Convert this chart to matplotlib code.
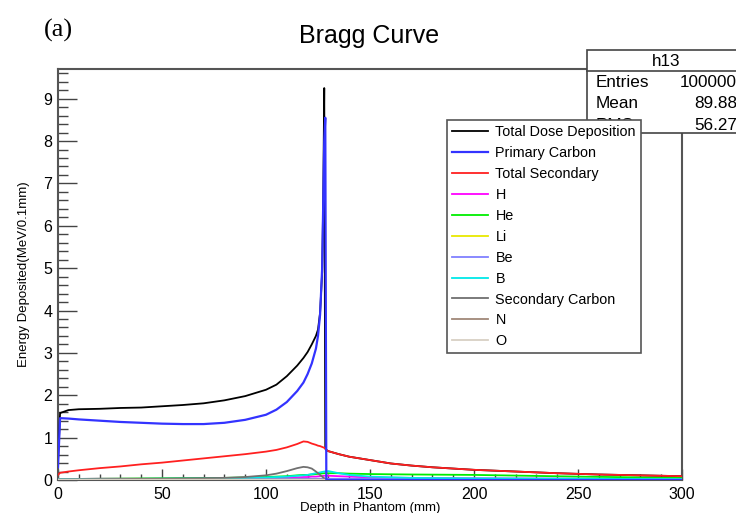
import matplotlib.pyplot as plt
from matplotlib.patches import Rectangle
from matplotlib.ticker import MultipleLocator

# depth grid (mm) for the main curves
depth = [0, 1, 5, 10, 20, 30, 40, 50, 60, 70, 80, 90, 100, 105, 110, 115, 118,
         120, 122, 124, 125, 126, 127, 127.5, 128, 128.5, 129, 130, 135, 140,
         150, 160, 170, 180, 190, 200, 220, 240, 260, 280, 300]

total_dose = [0.45, 1.58, 1.65, 1.67, 1.68, 1.70, 1.71, 1.74, 1.77, 1.81, 1.88,
              1.98, 2.13, 2.25, 2.45, 2.70, 2.88, 3.02, 3.20, 3.40, 3.55, 3.95,
              4.90, 6.60, 9.25, 0.74, 0.71, 0.68, 0.61, 0.55, 0.47, 0.39, 0.34,
              0.30, 0.27, 0.24, 0.20, 0.16, 0.13, 0.11, 0.09]

primary_carbon = [0.30, 1.46, 1.45, 1.43, 1.40, 1.37, 1.35, 1.33, 1.32, 1.32,
                  1.35, 1.42, 1.54, 1.66, 1.84, 2.10, 2.30, 2.50, 2.75, 3.10,
                  3.40, 3.90, 5.00, 6.50, 8.00, 8.55, 0.0, 0.0, 0.0, 0.0, 0.0,
                  0.0, 0.0, 0.0, 0.0, 0.0, 0.0, 0.0, 0.0, 0.0, 0.0]

total_secondary = [0.12, 0.17, 0.20, 0.23, 0.28, 0.32, 0.37, 0.41, 0.46, 0.51,
                   0.56, 0.61, 0.67, 0.71, 0.77, 0.85, 0.91, 0.90, 0.86, 0.83,
                   0.81, 0.80, 0.78, 0.77, 0.76, 0.74, 0.71, 0.68, 0.61, 0.55,
                   0.47, 0.39, 0.34, 0.30, 0.27, 0.24, 0.20, 0.16, 0.13, 0.11,
                   0.09]

# fragments, coarser grid
frag_depth = [0, 20, 50, 80, 90, 100, 105, 110, 115, 118, 120, 122, 124, 126,
              128, 130, 135, 140, 150, 170, 200, 250, 300]
h_frag = [0.02, 0.03, 0.03, 0.04, 0.04, 0.05, 0.05, 0.06, 0.06, 0.07, 0.07,
          0.08, 0.08, 0.09, 0.10, 0.10, 0.09, 0.08, 0.06, 0.05, 0.04, 0.03, 0.02]
he_frag = [0.02, 0.03, 0.04, 0.05, 0.06, 0.07, 0.08, 0.09, 0.11, 0.12, 0.12,
           0.13, 0.14, 0.15, 0.16, 0.16, 0.16, 0.15, 0.14, 0.13, 0.12, 0.08, 0.05]
li_frag = [0.01, 0.01, 0.01, 0.01, 0.02, 0.02, 0.02, 0.02, 0.02, 0.02, 0.02,
           0.02, 0.02, 0.02, 0.02, 0.02, 0.02, 0.02, 0.02, 0.02, 0.02, 0.01, 0.01]
be_frag = [0.02, 0.02, 0.02, 0.02, 0.03, 0.03, 0.03, 0.03, 0.03, 0.03, 0.03,
           0.03, 0.03, 0.03, 0.03, 0.03, 0.03, 0.03, 0.03, 0.03, 0.02, 0.02, 0.01]
b_frag = [0.02, 0.02, 0.03, 0.04, 0.05, 0.06, 0.07, 0.08, 0.10, 0.11, 0.12,
          0.14, 0.16, 0.18, 0.20, 0.21, 0.16, 0.12, 0.08, 0.05, 0.04, 0.03, 0.02]
sec_carbon = [0.01, 0.02, 0.03, 0.05, 0.07, 0.11, 0.15, 0.21, 0.28, 0.31, 0.30,
              0.27, 0.20, 0.12, 0.04, 0.0, 0.0, 0.0, 0.0, 0.0, 0.0, 0.0, 0.0]
n_frag = [0.01, 0.01, 0.01, 0.01, 0.01, 0.01, 0.01, 0.01, 0.01, 0.01, 0.01,
          0.01, 0.01, 0.01, 0.01, 0.0, 0.0, 0.0, 0.0, 0.0, 0.0, 0.0, 0.0]
o_frag = [0.005, 0.005, 0.005, 0.005, 0.005, 0.005, 0.005, 0.005, 0.005, 0.005,
          0.005, 0.005, 0.005, 0.005, 0.005, 0.0, 0.0, 0.0, 0.0, 0.0, 0.0, 0.0, 0.0]

stats_labels = ['Entries', 'Mean', 'RMS']
stats_values = ['100000', '89.88', '56.27']

plt.rcParams['font.family'] = ['Liberation Sans', 'DejaVu Sans']

fig = plt.figure(figsize=(7.36, 5.13), dpi=100)
ax = fig.add_axes([58/736, 1-480/513, (682-58)/736, (480-69)/513])

lw = 1.3
ax.plot(depth, total_dose, color='#000000', lw=lw, label='Total Dose Deposition', zorder=4)
ax.plot(depth, primary_carbon, color='#3333ff', lw=1.6, label='Primary Carbon', zorder=5)
ax.plot(depth, total_secondary, color='#ff2020', lw=lw, label='Total Secondary', zorder=4)
ax.plot(frag_depth, h_frag, color='#ff00ff', lw=lw, label='H', zorder=3)
ax.plot(frag_depth, he_frag, color='#00ee00', lw=lw, label='He', zorder=3)
ax.plot(frag_depth, li_frag, color='#e8e800', lw=lw, label='Li', zorder=3)
ax.plot(frag_depth, be_frag, color='#8080ff', lw=lw, label='Be', zorder=3)
ax.plot(frag_depth, b_frag, color='#00e8e8', lw=lw, label='B', zorder=3)
ax.plot(frag_depth, sec_carbon, color='#707070', lw=lw, label='Secondary Carbon', zorder=3)
ax.plot(frag_depth, n_frag, color='#a08878', lw=lw, label='N', zorder=3)
ax.plot(frag_depth, o_frag, color='#d8d0c4', lw=lw, label='O', zorder=3)

ax.set_xlim(0, 300)
ax.set_ylim(0, 9.7)
ax.xaxis.set_major_locator(MultipleLocator(50))
ax.xaxis.set_minor_locator(MultipleLocator(10))
ax.yaxis.set_major_locator(MultipleLocator(1))
ax.yaxis.set_minor_locator(MultipleLocator(0.2))
ax.tick_params(axis='both', which='both', direction='in', top=False, right=False,
               labelsize=11.5, color='#444444', width=1)
ax.tick_params(axis='y', which='major', length=13.5, pad=4)
ax.tick_params(axis='y', which='minor', length=7)
ax.tick_params(axis='x', which='major', length=8, pad=5)
ax.tick_params(axis='x', which='minor', length=4.3)
for s in ax.spines.values():
    s.set_color('#555555')
    s.set_linewidth(1.5)

ax.set_xlabel('Depth in Phantom (mm)', fontsize=9.5, labelpad=0)
ax.set_ylabel('Energy Deposited(MeV/0.1mm)', fontsize=9.5, labelpad=10)

fig.text(369/736, 1-36/513, 'Bragg Curve', fontsize=18, ha='center', va='center')
fig.text(44/736, 1-30/513, '(a)', fontsize=19, ha='left', va='center',
         family='Liberation Serif')

# statistics box
tf = fig.transFigure
ax.add_patch(Rectangle((587/736, 1-133/513), (745-587)/736, (133-50)/513,
                       transform=tf, facecolor='white', edgecolor='#444444',
                       lw=1.2, clip_on=False, zorder=10))
ax.plot([587/736, 745/736], [1-71/513, 1-71/513], transform=tf, color='#444444',
        lw=1.2, clip_on=False, zorder=11)
ax.text(666/736, 1-61/513, 'h13', transform=tf, fontsize=12.3, ha='center',
        va='center', zorder=12)
for i, (lab, val) in enumerate(zip(stats_labels, stats_values)):
    y = 1-(83+21*i)/513
    ax.text(596/736, y, lab, transform=tf, fontsize=12.3, ha='left', va='center', zorder=12)
    ax.text(737/736, y, val, transform=tf, fontsize=12.3, ha='right', va='center', zorder=12)

leg = ax.legend(loc='upper left', bbox_to_anchor=(447/736, 1-120/513),
                bbox_transform=tf, fontsize=10.4, frameon=True, fancybox=False,
                edgecolor='#555555', framealpha=1, handlelength=2.5,
                handletextpad=0.5, labelspacing=0.48, borderpad=0.35,
                borderaxespad=0)
leg.get_frame().set_linewidth(1.2)
leg.set_zorder(20)

fig.savefig('out.png', dpi=100)
